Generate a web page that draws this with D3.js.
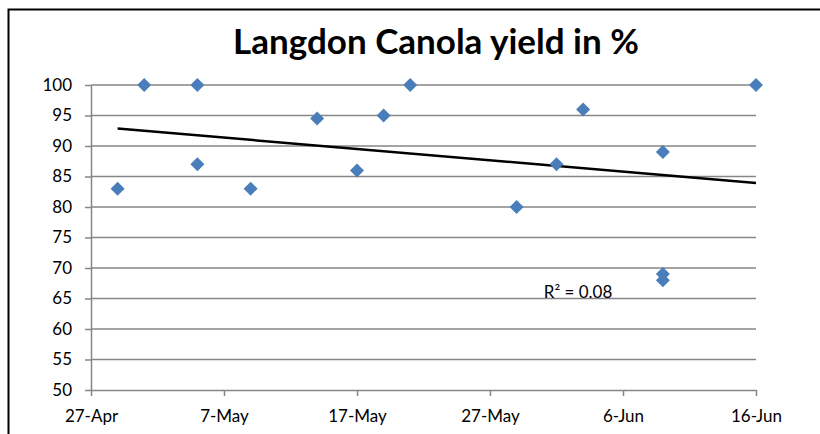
<!DOCTYPE html>
<html><head><meta charset="utf-8">
<script src="https://cdn.jsdelivr.net/npm/d3@7"></script>
<style>body{margin:0;background:#fff;} svg{display:block;}</style>
</head><body>
<svg id="c" width="820" height="434"></svg>
<script>
const dates = ["2013-04-29","2013-05-01","2013-05-05","2013-05-05","2013-05-09","2013-05-14","2013-05-17","2013-05-19","2013-05-21","2013-05-29","2013-06-01","2013-06-03","2013-06-09","2013-06-09","2013-06-09","2013-06-16"];
const yields = [83,100,100,87,83,94.5,86,95,100,80,87,96,89,69,68,100];
const xTickDates = ["2013-04-27","2013-05-07","2013-05-17","2013-05-27","2013-06-06","2013-06-16"];
const yTicks = [50,55,60,65,70,75,80,85,90,95,100];
const title = "Langdon Canola yield in %";

(function(){
const parse = d3.utcParse("%Y-%m-%d");
const fmt = d3.utcFormat("%-d-%b");
const svg = d3.select("#c");
const font = "Lato, 'Open Sans', sans-serif";

svg.append("rect").attr("x",8.5).attr("y",9.5).attr("width",830).attr("height",440)
  .attr("fill","#fff").attr("stroke","#000").attr("stroke-width",2);

const L=91, R=756, T=85, B=390;
const x = d3.scaleUtc().domain([parse(xTickDates[0]), parse(xTickDates[xTickDates.length-1])]).range([L,R]);
const y = d3.scaleLinear().domain([50,100]).range([B,T]);

svg.append("g").selectAll("line").data(yTicks.filter(v=>v>50)).join("line")
  .attr("x1",L).attr("x2",R).attr("y1",d=>y(d)).attr("y2",d=>y(d))
  .attr("stroke","#868686").attr("stroke-width",1.5);

const ya = svg.append("g").attr("transform",`translate(${L},0)`)
  .call(d3.axisLeft(y).tickValues(yTicks).tickSize(6).tickSizeOuter(0).tickPadding(13));
ya.select(".domain").attr("stroke","#868686").attr("stroke-width",1.5);
ya.selectAll(".tick line").attr("stroke","#868686").attr("stroke-width",1.5);
ya.selectAll("text").attr("font-family",font).attr("font-size",17).attr("fill","#000");

const xa = svg.append("g").attr("transform",`translate(0,${B})`)
  .call(d3.axisBottom(x).tickValues(xTickDates.map(parse)).tickFormat(fmt).tickSize(6).tickSizeOuter(0).tickPadding(14));
xa.select(".domain").attr("stroke","#868686").attr("stroke-width",1.5);
xa.selectAll(".tick line").attr("stroke","#868686").attr("stroke-width",1.5);
xa.selectAll("text").attr("font-family",font).attr("font-size",17).attr("fill","#000");

const pts = dates.map((d,i)=>({t:parse(d), v:yields[i]}));
const xs = pts.map(p=>+p.t/864e5), ys = pts.map(p=>p.v);
const mx = d3.mean(xs), my = d3.mean(ys);
let sxy=0,sxx=0,syy=0;
xs.forEach((v,i)=>{sxy+=(v-mx)*(ys[i]-my); sxx+=(v-mx)**2; syy+=(ys[i]-my)**2;});
const slope=sxy/sxx, icpt=my-slope*mx, r2=sxy*sxy/(sxx*syy);
const ext = d3.extent(pts, p=>p.t);
svg.append("line")
  .attr("x1",x(ext[0])).attr("y1",y(icpt+slope*(+ext[0]/864e5)))
  .attr("x2",x(ext[1])).attr("y2",y(icpt+slope*(+ext[1]/864e5)))
  .attr("stroke","#000").attr("stroke-width",2.5);

svg.append("g").selectAll("path").data(pts).join("path")
  .attr("d", d3.symbol(d3.symbolDiamond2, 125)())
  .attr("transform", p=>`translate(${x(p.t)},${y(p.v)})`)
  .attr("fill","#4A7EBB");

svg.append("text").attr("x",578).attr("y",298).attr("text-anchor","middle")
  .attr("font-family",font).attr("font-size",17).text("R² = " + r2.toFixed(2));

svg.append("text").attr("x",436).attr("y",54).attr("text-anchor","middle")
  .attr("font-family",font).attr("font-weight","bold").attr("font-size",35).text(title);
})();
</script>
</body></html>
